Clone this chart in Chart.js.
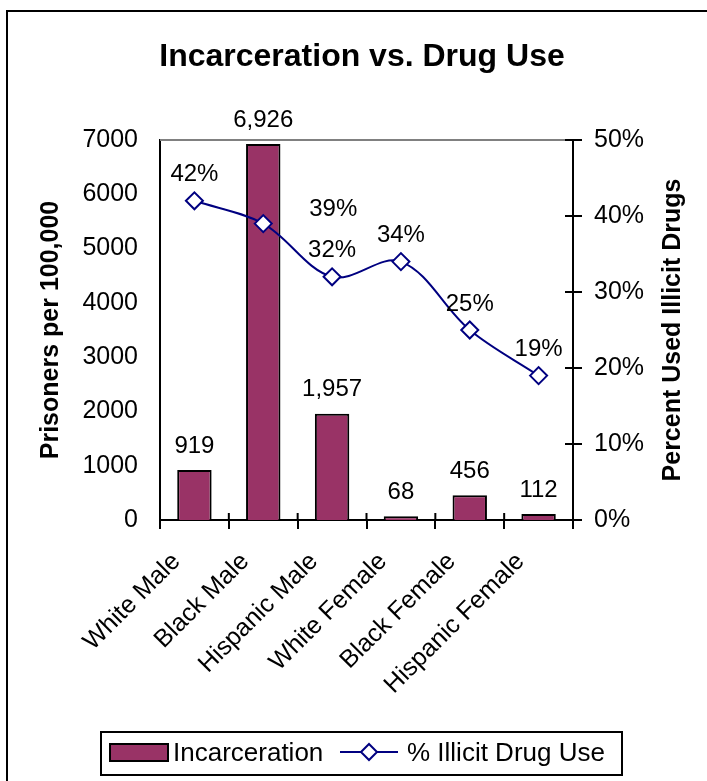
<!DOCTYPE html>
<html>
<head>
<meta charset="utf-8">
<script src="https://cdn.jsdelivr.net/npm/chart.js@4/dist/chart.umd.min.js"></script>
<style>
  body { margin: 0; background: #fff; }
  canvas { display: block; }
</style>
</head>
<body>
<canvas id="myChart" width="707" height="781"></canvas>
<script>
// groups and values
var groups = ['White Male', 'Black Male', 'Hispanic Male', 'White Female', 'Black Female', 'Hispanic Female'];
var prisoners = [919, 6926, 1957, 68, 456, 112];      // per 100,000
var drugUse = [42, 39, 32, 34, 25, 19];               // percent

var leftTicks = [0, 1000, 2000, 3000, 4000, 5000, 6000, 7000];
var rightTicks = [0, 10, 20, 30, 40, 50];

var chartTitle = 'Incarceration vs. Drug Use';
var rightTitle = 'Percent Used Illicit Drugs';

var FONT = "'Liberation Sans', Arial, sans-serif";
Chart.defaults.font.family = FONT;
Chart.defaults.color = '#000';

function fmtThousands(v) {
    return v.toString().replace(/\B(?=(\d{3})+(?!\d))/g, ',');
}

// frame, title, inner tick halves, right axis title, value labels and the boxed legend
var decor = {
    id: 'decor',
    afterDatasetsDraw: function (chart) {
        var ctx = chart.ctx;
        ctx.save();
        ctx.fillStyle = '#000';
        ctx.font = '24px ' + FONT;
        ctx.textAlign = 'center';
        ctx.textBaseline = 'middle';

        // bar values
        chart.getDatasetMeta(1).data.forEach(function (bar, i) {
            ctx.fillText(fmtThousands(prisoners[i]), bar.x, bar.y - 24);
        });
        // line values
        var shift = { 1: [70, 12] };
        chart.getDatasetMeta(0).data.forEach(function (pt, i) {
            var d = shift[i] || [0, 0];
            ctx.fillText(drugUse[i] + '%', pt.x + d[0], pt.y - 26 + d[1]);
        });
        ctx.restore();
    },
    afterDraw: function (chart) {
        var ctx = chart.ctx;
        var a = chart.chartArea;
        ctx.save();

        // outer frame
        ctx.strokeStyle = '#000';
        ctx.lineWidth = 2;
        ctx.strokeRect(7, 11, 720, 800);

        // title
        ctx.fillStyle = '#000';
        ctx.font = 'bold 32px ' + FONT;
        ctx.textAlign = 'center';
        ctx.textBaseline = 'middle';
        ctx.fillText(chartTitle, 362, 57);

        // top edge of plot
        ctx.strokeStyle = '#808080';
        ctx.lineWidth = 2;
        ctx.beginPath();
        ctx.moveTo(a.left, a.top);
        ctx.lineTo(a.right, a.top);
        ctx.stroke();

        // inner half of the tick marks
        ctx.strokeStyle = '#000';
        ctx.beginPath();
        var n = groups.length;
        for (var i = 0; i <= n; i++) {
            var x = a.left + i * (a.right - a.left) / n;
            ctx.moveTo(x, a.bottom - 7);
            ctx.lineTo(x, a.bottom);
        }
        var y1 = chart.scales.y1;
        rightTicks.forEach(function (v) {
            var y = y1.getPixelForValue(v);
            ctx.moveTo(a.right - 8, y);
            ctx.lineTo(a.right, y);
        });
        ctx.stroke();

        // right axis title, reading upwards
        ctx.save();
        ctx.translate(673, (a.top + a.bottom) / 2);
        ctx.rotate(-Math.PI / 2);
        ctx.font = 'bold 25px ' + FONT;
        ctx.textAlign = 'center';
        ctx.textBaseline = 'middle';
        ctx.fillStyle = '#000';
        ctx.fillText(rightTitle, 0, 0);
        ctx.restore();

        // legend
        var ds = chart.data.datasets;
        var bars = ds[1], line = ds[0];
        ctx.lineWidth = 2;
        ctx.strokeStyle = '#000';
        ctx.strokeRect(101, 732, 521, 43);

        ctx.fillStyle = bars.backgroundColor;
        ctx.fillRect(110, 744, 58, 17);
        ctx.strokeRect(110, 744, 58, 17);

        ctx.font = '26px ' + FONT;
        ctx.textAlign = 'left';
        ctx.textBaseline = 'middle';
        ctx.fillStyle = '#000';
        ctx.fillText(bars.label, 173, 754);

        ctx.strokeStyle = line.borderColor;
        ctx.beginPath();
        ctx.moveTo(340, 752);
        ctx.lineTo(398, 752);
        ctx.stroke();
        ctx.beginPath();
        ctx.moveTo(369 - 8, 752);
        ctx.lineTo(369, 744);
        ctx.lineTo(369 + 8, 752);
        ctx.lineTo(369, 760);
        ctx.closePath();
        ctx.fillStyle = '#fff';
        ctx.fill();
        ctx.stroke();

        ctx.fillStyle = '#000';
        ctx.fillText(line.label, 407, 754);
        ctx.restore();
    }
};

var ctx = document.getElementById('myChart').getContext('2d');
var myChart = new Chart(ctx, {
    type: 'bar',
    data: {
        labels: groups,
        datasets: [{
            type: 'line',
            label: '% Illicit Drug Use',
            data: drugUse,
            yAxisID: 'y1',
            order: 0,
            borderColor: '#000080',
            borderWidth: 2,
            tension: 0.35,
            pointStyle: 'rectRot',
            pointRadius: 8.5,
            pointBackgroundColor: '#fff',
            pointBorderColor: '#000080',
            pointBorderWidth: 2
        }, {
            type: 'bar',
            label: 'Incarceration',
            data: prisoners,
            yAxisID: 'y',
            order: 1,
            backgroundColor: '#993366',
            borderColor: '#000',
            borderWidth: 2,
            barPercentage: 0.5,
            categoryPercentage: 1
        }]
    },
    options: {
        responsive: false,
        animation: false,
        layout: { padding: { top: 140 } },
        plugins: {
            legend: { display: false },
            tooltip: { enabled: false },
            title: { display: false }
        },
        scales: {
            x: {
                grid: { drawOnChartArea: false, tickLength: 9, color: '#000', lineWidth: 2 },
                border: { color: '#000', width: 2 },
                ticks: {
                    autoSkip: false,
                    maxRotation: 45,
                    minRotation: 45,
                    padding: 18,
                    labelOffset: -18,
                    font: { size: 25 }
                },
                afterFit: function (scale) { scale.height = 261; }
            },
            y: {
                position: 'left',
                min: 0,
                max: 7000,
                afterBuildTicks: function (scale) {
                    scale.ticks = leftTicks.map(function (v) { return { value: v }; });
                },
                grid: { display: false, drawTicks: false },
                border: { display: true, color: '#000', width: 2 },
                ticks: {
                    padding: 22,
                    font: { size: 25 },
                    callback: function (v) { return String(v); }
                },
                title: {
                    display: true,
                    text: 'Prisoners per 100,000',
                    font: { size: 25, weight: 'bold' },
                    padding: { top: 36, bottom: 0 }
                },
                afterFit: function (scale) { scale.width = 160; }
            },
            y1: {
                position: 'right',
                min: 0,
                max: 50,
                afterBuildTicks: function (scale) {
                    scale.ticks = rightTicks.map(function (v) { return { value: v }; });
                },
                grid: { drawOnChartArea: false, tickLength: 9, color: '#000', lineWidth: 2 },
                border: { display: true, color: '#000', width: 2 },
                ticks: {
                    padding: 12,
                    font: { size: 25 },
                    callback: function (v) { return v + '%'; }
                },
                afterFit: function (scale) { scale.width = 134; }
            }
        }
    },
    plugins: [decor]
});
</script>
</body>
</html>
